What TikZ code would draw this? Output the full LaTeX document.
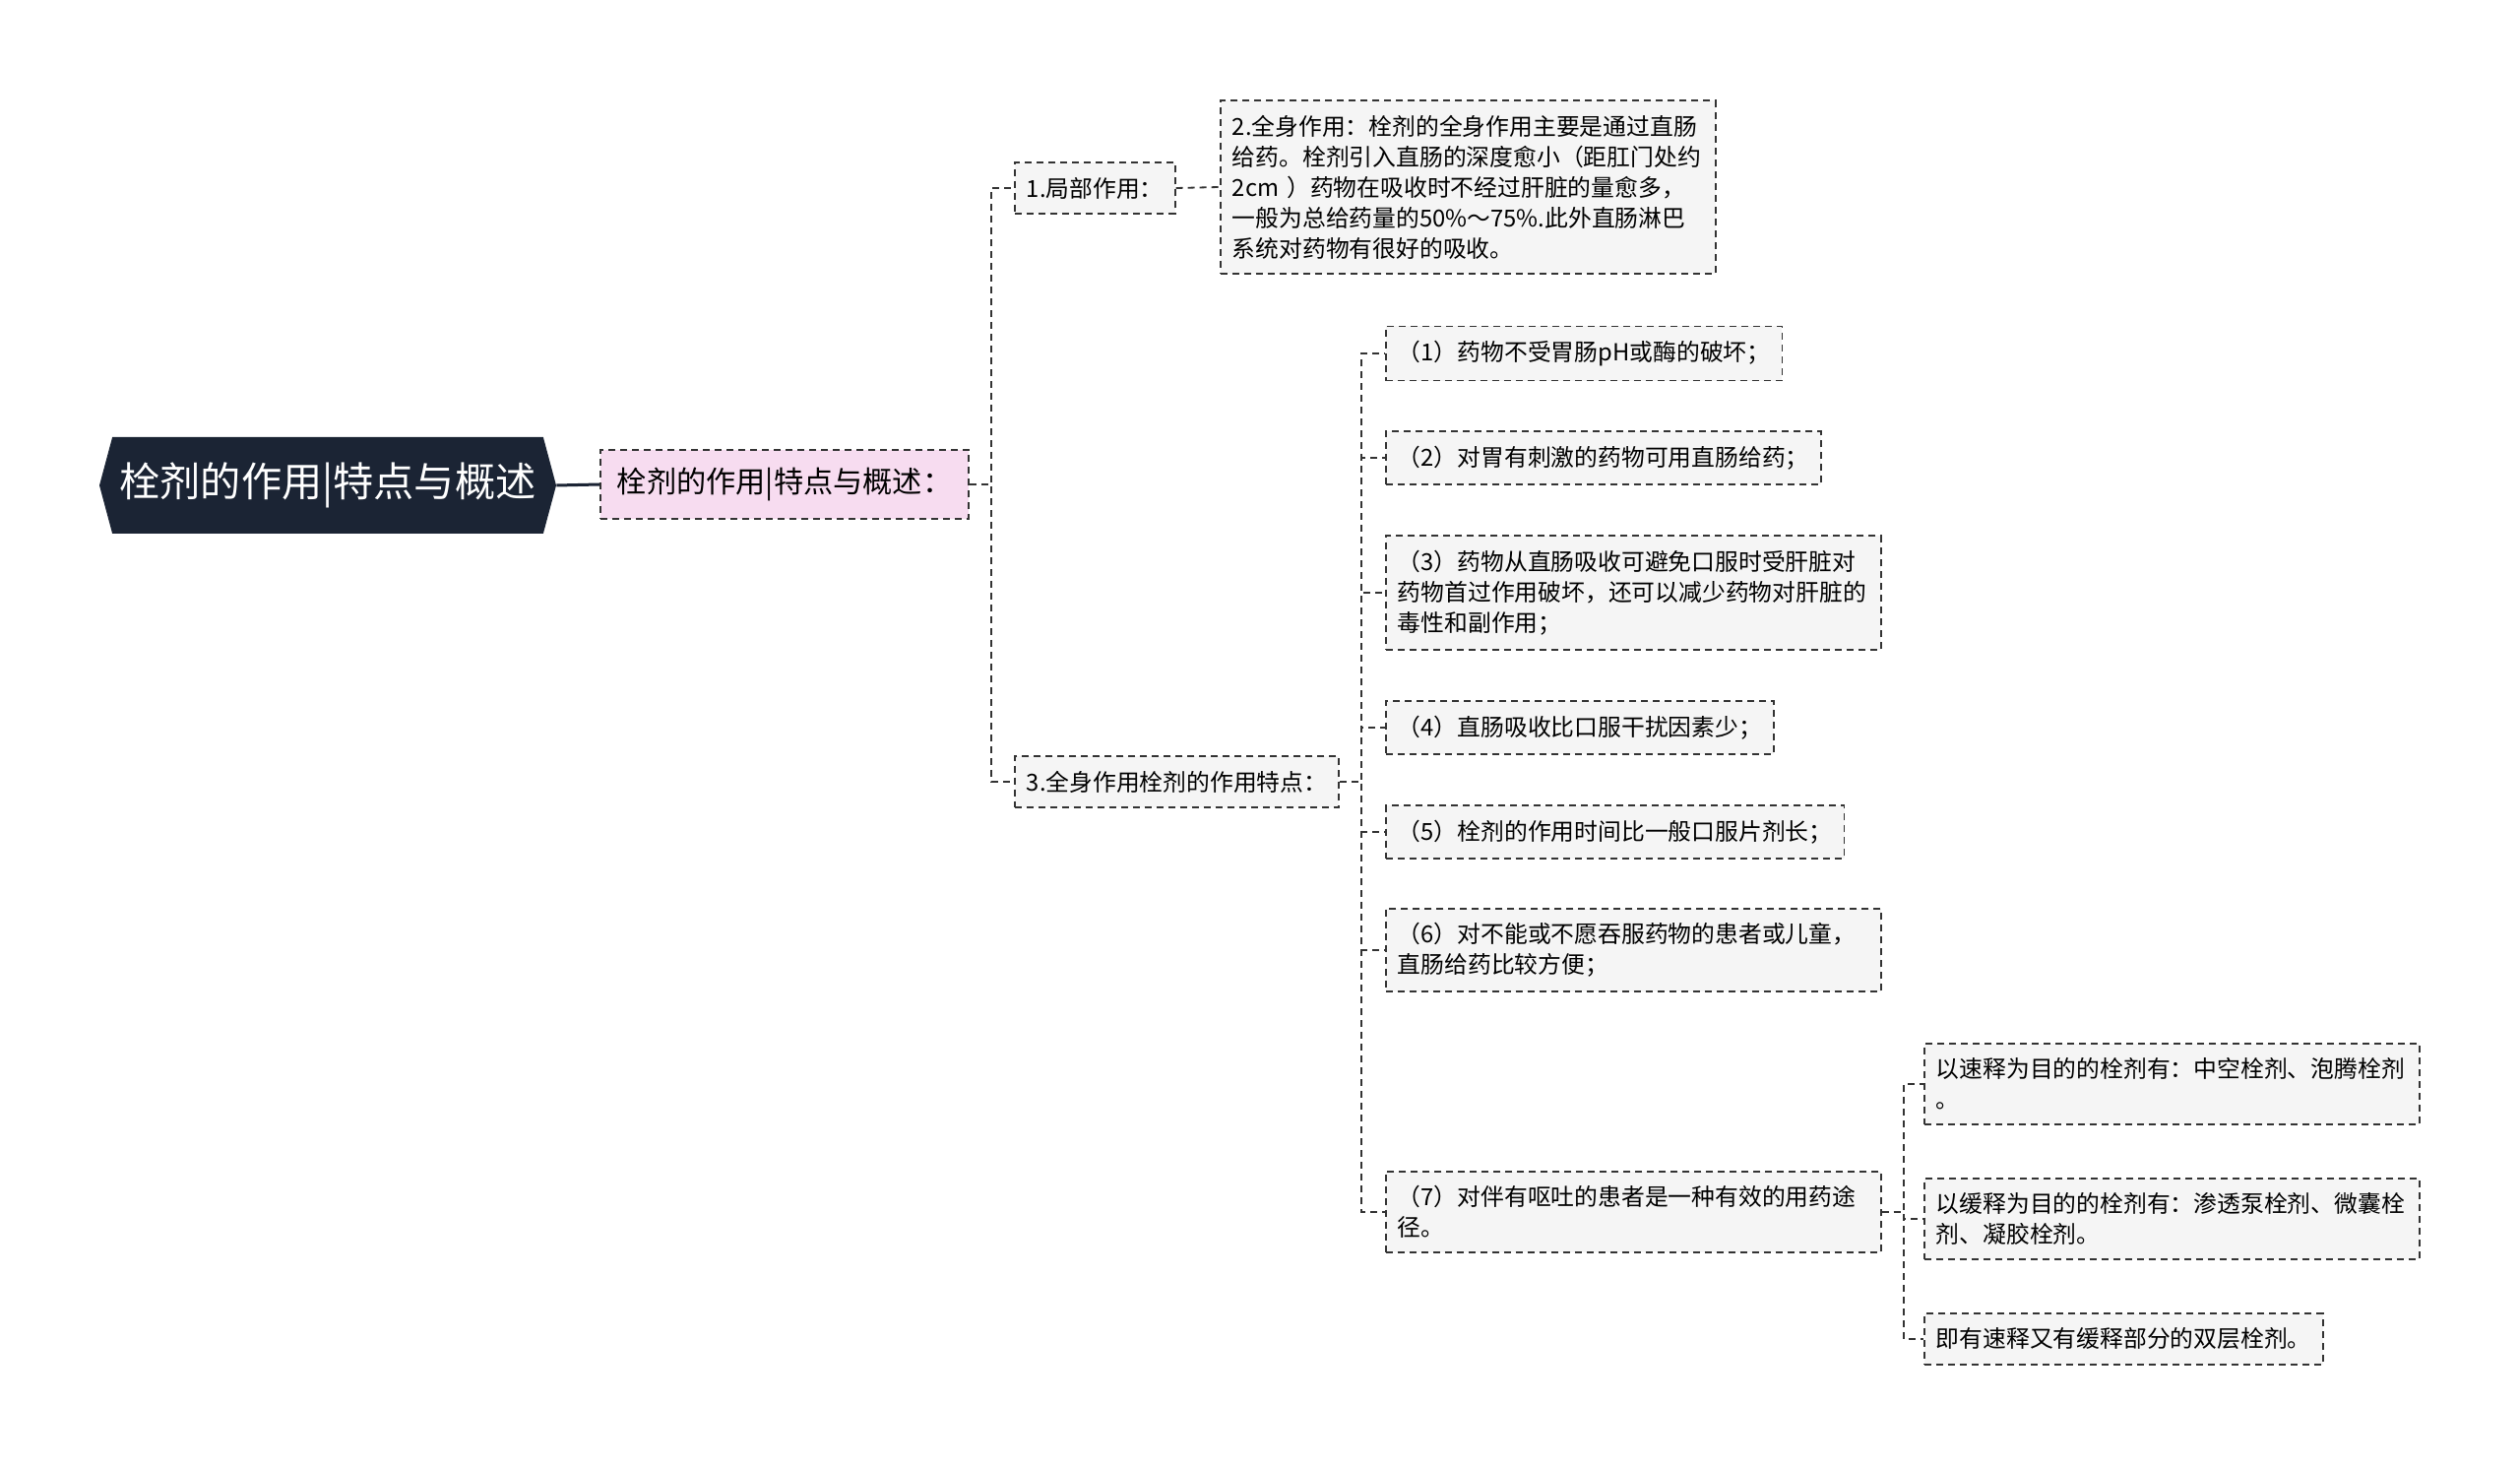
\documentclass[tikz,border=0pt]{standalone}
\usepackage{fontspec}
\newfontfamily\cjkfont{Noto Sans CJK SC}
\usetikzlibrary{shapes.symbols}

\definecolor{rootblue}{HTML}{1B2434}
\definecolor{pinkfill}{HTML}{F7DCF0}
\definecolor{leaffill}{HTML}{F5F5F5}
\definecolor{linegray}{HTML}{333333}

\tikzset{
  dashline/.style={draw=linegray, line width=0.9pt, dash pattern=on 3.5pt off 2.5pt},
  rootbox/.style={signal, signal to=west and east, signal pointer angle=150,
    fill=rootblue, text=white, minimum width=232pt, minimum height=49pt,
    font=\cjkfont\fontsize{20.6}{24}\selectfont},
  subbox/.style={dashline, fill=pinkfill, anchor=west, inner xsep=8.5pt,
    minimum height=35pt, font=\cjkfont\fontsize{15.1}{18}\selectfont},
  leafbox/.style={dashline, fill=leaffill, anchor=west, inner xsep=6pt,
    inner ysep=7.3pt, align=left, font=\cjkfont\fontsize{11.9}{15.5}\selectfont},
  widebox/.style={leafbox, text width=239.5pt},
  branch/.style={dashline, to path={-- ++(22,0) |- (\tikztotarget)}}
}

\begin{document}
\begin{tikzpicture}[x=0.5pt,y=-0.5pt]
  \useasboundingbox (0,0) rectangle (2560,1491);

  % root and summary
  \node[rootbox] (root) at (333,493) {栓剂的作用|特点与概述};
  \node[subbox] (summary) at (609,492) {栓剂的作用|特点与概述：};
  \draw[rootblue, line width=1.5pt] (root.east) -- (summary.west);

  % first level
  \node[leafbox] (local) at (1030,191) {1.局部作用：};
  \node[widebox] (whole) at (1239,190) {2.全身作用：栓剂的全身作用主要是通过直肠\\
    给药。栓剂引入直肠的深度愈小（距肛门处约\\
    2cm ）药物在吸收时不经过肝脏的量愈多，\\
    一般为总给药量的50\%～75\%.此外直肠淋巴\\
    系统对药物有很好的吸收。};
  \node[leafbox] (feature) at (1030,794) {3.全身作用栓剂的作用特点：};
  \foreach \n in {local,feature}
    {\draw[branch] (summary.east) to (\n.west);}
  \draw[dashline] (local.east) -- (whole.west);

  % features
  \node[leafbox] (f1) at (1407,359) {（1）药物不受胃肠pH或酶的破坏；};
  \node[leafbox] (f2) at (1407,465) {（2）对胃有刺激的药物可用直肠给药；};
  \node[widebox] (f3) at (1407,602) {（3）药物从直肠吸收可避免口服时受肝脏对\\
    药物首过作用破坏，还可以减少药物对肝脏的\\
    毒性和副作用；};
  \node[leafbox] (f4) at (1407,739) {（4）直肠吸收比口服干扰因素少；};
  \node[leafbox] (f5) at (1407,845) {（5）栓剂的作用时间比一般口服片剂长；};
  \node[widebox] (f6) at (1407,965) {（6）对不能或不愿吞服药物的患者或儿童，\\
    直肠给药比较方便；};
  \node[widebox] (f7) at (1407,1231) {（7）对伴有呕吐的患者是一种有效的用药途\\
    径。};
  \foreach \n in {f1,f2,f3,f4,f5,f6,f7}
    {\draw[branch] (feature.east) to (\n.west);}

  % release types
  \node[widebox] (r1) at (1954,1101) {以速释为目的的栓剂有：中空栓剂、泡腾栓剂\\
    。};
  \node[widebox] (r2) at (1954,1238) {以缓释为目的的栓剂有：渗透泵栓剂、微囊栓\\
    剂、凝胶栓剂。};
  \node[leafbox] (r3) at (1954,1360) {即有速释又有缓释部分的双层栓剂。};
  \foreach \n in {r1,r2,r3}
    {\draw[branch] (f7.east) to (\n.west);}
\end{tikzpicture}
\end{document}
